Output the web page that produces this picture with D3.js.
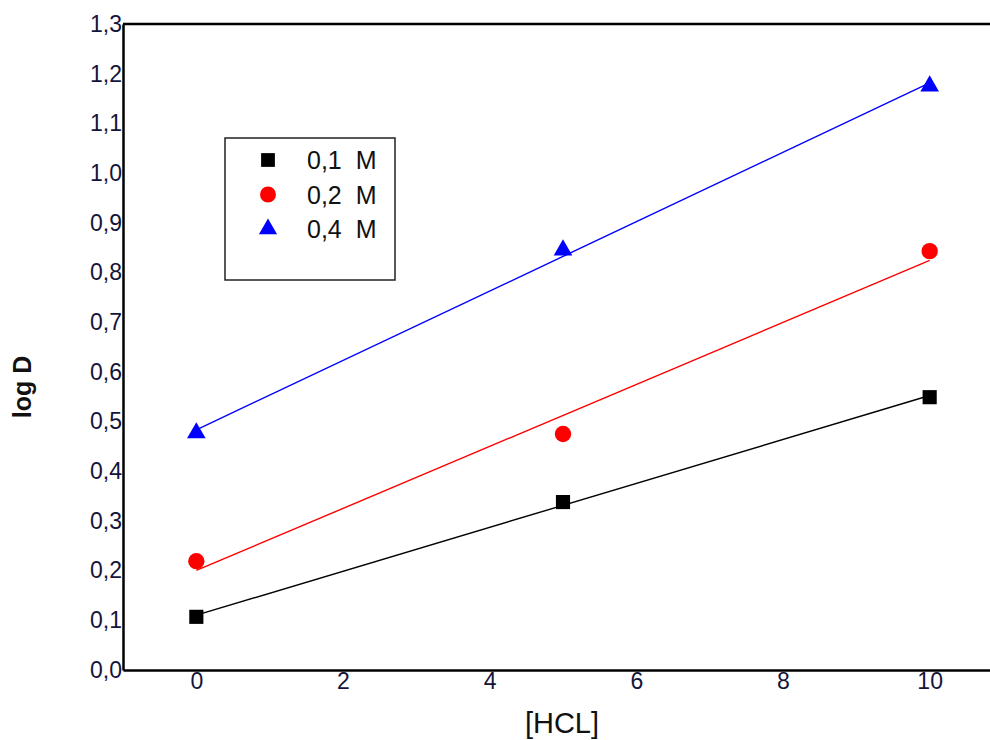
<!DOCTYPE html>
<html>
<head>
<meta charset="utf-8">
<script src="https://cdn.jsdelivr.net/npm/d3@7"></script>
<style>
  body { margin: 0; background: #fff; }
  svg { display: block; font-family: "Liberation Sans", Arial, sans-serif; }
</style>
</head>
<body>
<svg id="svg" width="990" height="740"></svg>
<script>
// values
const hclConc = [0, 5, 10];
const seriesNames = ["0,1  M", "0,2  M", "0,4  M"];
const logD01 = [0.107, 0.338, 0.549];
const logD02 = [0.219, 0.475, 0.843];
const logD04 = [0.477, 0.845, 1.175];
const xTicks = [0, 2, 4, 6, 8, 10];
const yTicks = d3.range(0, 14).map(i => i / 10);

const series = [
    {name: seriesNames[0], values: logD01, color: "#000000", symbol: d3.symbolSquare, size: 200},
    {name: seriesNames[1], values: logD02, color: "#ff0000", symbol: d3.symbolCircle, size: 210},
    {name: seriesNames[2], values: logD04, color: "#0000ff", symbol: d3.symbolTriangle, size: 150}
];

const margin = {left: 123, top: 24, bottom: 70};
const width = 990, height = 740;

const x = d3.scaleLinear([-1, 11], [margin.left, 1003]);
const y = d3.scaleLinear([0, 1.3], [height - margin.bottom, margin.top]);

const comma = v => d3.format(".1f")(v).replace(".", ",");

const svg = d3.select("#svg");

// least squares fit
function fit(xs, ys) {
    const mx = d3.mean(xs), my = d3.mean(ys);
    const slope = d3.sum(xs, (v, i) => (v - mx) * (ys[i] - my)) / d3.sum(xs, v => (v - mx) ** 2);
    return {slope, intercept: my - slope * mx};
}

const plot = svg.append("g");

series.forEach(s => {
    const f = fit(hclConc, s.values);
    const x0 = d3.min(hclConc), x1 = d3.max(hclConc);
    plot.append("line")
        .attr("x1", x(x0)).attr("y1", y(f.intercept + f.slope * x0))
        .attr("x2", x(x1)).attr("y2", y(f.intercept + f.slope * x1))
        .attr("stroke", s.color)
        .attr("stroke-width", 1.4);

    plot.append("g")
        .selectAll("path")
        .data(hclConc.map((c, i) => ({c, v: s.values[i]})))
        .join("path")
        .attr("transform", d => `translate(${x(d.c)},${y(d.v)})`)
        .attr("d", d3.symbol(s.symbol, s.size))
        .attr("fill", s.color);
});

// axes
const yAxis = svg.append("g")
    .attr("transform", `translate(${margin.left},0)`)
    .call(d3.axisLeft(y).tickValues(yTicks).tickFormat(comma).tickSize(0).tickPadding(1));
const xAxis = svg.append("g")
    .attr("transform", `translate(0,${y(0)})`)
    .call(d3.axisBottom(x).tickValues(xTicks).tickSize(0).tickPadding(3));

[xAxis, yAxis].forEach(a => {
    a.select(".domain").attr("stroke", "#000").attr("stroke-width", 2.5);
    a.selectAll("text").attr("font-size", 23).attr("fill", "#14143a")
        .attr("font-family", "Liberation Sans, Arial, sans-serif");
});

// top frame line
svg.append("line")
    .attr("x1", margin.left).attr("x2", width)
    .attr("y1", y(1.3)).attr("y2", y(1.3))
    .attr("stroke", "#000").attr("stroke-width", 2.5);

// axis titles
svg.append("text")
    .attr("x", 562).attr("y", 733)
    .attr("text-anchor", "middle")
    .attr("font-size", 29)
    .attr("fill", "#111")
    .text("[HCL]");

svg.append("text")
    .attr("transform", `translate(31,387) rotate(-90)`)
    .attr("text-anchor", "middle")
    .attr("font-size", 25)
    .attr("font-weight", "bold")
    .attr("fill", "#111")
    .text("log D");

// legend
const legend = svg.append("g").attr("transform", "translate(225,138)");
legend.append("rect")
    .attr("width", 170).attr("height", 142)
    .attr("fill", "#fff").attr("stroke", "#222").attr("stroke-width", 1.5);

const rows = legend.selectAll("g.row")
    .data(series)
    .join("g")
    .attr("class", "row")
    .attr("transform", (d, i) => `translate(0,${22 + i * 34.5})`);

rows.append("path")
    .attr("transform", "translate(43,0)")
    .attr("d", d => d3.symbol(d.symbol, d.size * 0.95)())
    .attr("fill", d => d.color);

rows.append("text")
    .attr("x", 82).attr("dy", "0.36em")
    .attr("font-size", 25)
    .attr("fill", "#111")
    .attr("xml:space", "preserve")
    .style("white-space", "pre")
    .text(d => d.name);
</script>
</body>
</html>
